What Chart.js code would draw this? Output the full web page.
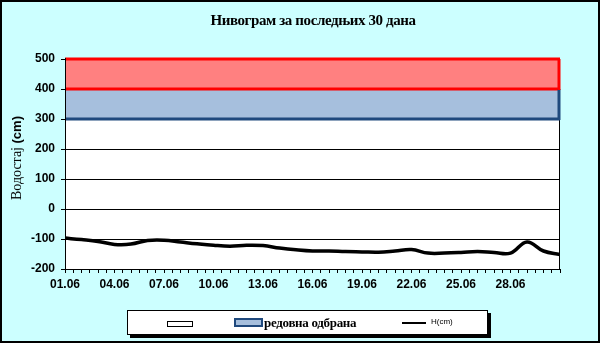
<!DOCTYPE html>
<html>
<head>
<meta charset="utf-8">
<script src="https://cdn.jsdelivr.net/npm/chart.js@4/dist/chart.umd.min.js"></script>
<style>
    html, body { margin: 0; padding: 0; }
    body {
        width: 600px; height: 343px; position: relative; overflow: hidden;
        background: #ccffff; font-family: "Liberation Sans", Arial, sans-serif;
    }
    canvas { position: absolute; left: 0; top: 0; }
    #frame {
        position: absolute; left: 0; top: 0; width: 600px; height: 343px;
        box-sizing: border-box; border: 2px solid #000; pointer-events: none;
    }
    #title {
        position: absolute; left: 0; width: 626px; top: 12px; text-align: center;
        font: bold 15px "Liberation Serif", "Times New Roman", serif; letter-spacing: -0.4px;
    }
    #ytitle {
        position: absolute; left: 17px; top: 158px; white-space: nowrap;
        transform: translate(-50%, -50%) rotate(-90deg);
        font: 14px "Liberation Serif", "Times New Roman", serif;
    }
    #ytitle b { font: bold 13px "Liberation Sans", Arial, sans-serif; }
    #legend {
        position: absolute; left: 127px; top: 310px; width: 361px; height: 25px;
        box-sizing: border-box; border: 1px solid #000; background: #fff;
        box-shadow: 3px 3px 0 #000;
    }
    .sw { position: absolute; box-sizing: border-box; }
    .lbl { position: absolute; white-space: nowrap; }
</style>
</head>
<body>
<canvas id="chart" width="600" height="343"></canvas>
<div id="title">Нивограм за последњих 30 дана</div>
<div id="ytitle">Водостај <b>(cm)</b></div>
<div id="legend"></div>
<div id="frame"></div>
<script>
    // дани од 01.06 (0 = 01.06)
    const days = [0, 1, 2, 3, 4, 5, 6, 7, 8, 9, 10, 11, 12, 13, 14, 15,
        16, 17, 18, 19, 20, 21, 22, 23, 24, 25, 26, 27, 28, 29, 30];
    // водостај H (cm)
    const levels = [-97, -102, -108, -118, -117, -105, -104, -110, -116, -121, -124,
        -121, -122, -130, -136, -140, -140, -142, -143, -144, -140, -135, -147,
        -147, -145, -142, -145, -147, -110, -140, -152];
    const dateLabels = ['01.06', '04.06', '07.06', '10.06', '13.06', '16.06',
        '19.06', '22.06', '25.06', '28.06'];
    const yTicks = [-200, -100, 0, 100, 200, 300, 400, 500];
    // границе одбране: доња, редовна, ванредна
    const bandLimits = [300, 400, 500];
    const seriesNames = ['', 'редовна одбрана', 'H(cm)'];

    const RED = '#ff0000';
    const PINK = '#ff8080';
    const STEEL = '#a6bfdd';
    const NAVY = '#1f497d';

    function flat(v) {
        return [{ x: days[0], y: v }, { x: days[days.length - 1], y: v }];
    }

    const frameLines = {
        id: 'frameLines',
        beforeDraw(chart) {
            const a = chart.chartArea, ctx = chart.ctx;
            ctx.save();
            ctx.fillStyle = '#fff';
            ctx.fillRect(a.left, a.top, a.right - a.left, a.bottom - a.top);
            ctx.restore();
        },
        beforeDatasetsDraw(chart) {
            const a = chart.chartArea, ctx = chart.ctx;
            ctx.save();
            ctx.strokeStyle = '#000';
            ctx.lineWidth = 1;
            ctx.strokeRect(Math.round(a.left) + 0.5, Math.round(a.top) + 0.5,
                Math.round(a.right - a.left) - 1, Math.round(a.bottom - a.top));
            ctx.restore();
        },
        afterDatasetsDraw(chart) {
            const xs = chart.scales.x, ys = chart.scales.y, ctx = chart.ctx;
            const a = chart.chartArea;
            const x = xs.getPixelForValue(days[days.length - 1]) - 1;
            ctx.save();
            ctx.lineWidth = 3;
            ctx.strokeStyle = NAVY;
            ctx.beginPath();
            ctx.moveTo(x, ys.getPixelForValue(bandLimits[0]) + 1);
            ctx.lineTo(x, ys.getPixelForValue(bandLimits[1]));
            ctx.stroke();
            ctx.strokeStyle = RED;
            ctx.beginPath();
            ctx.moveTo(x, ys.getPixelForValue(bandLimits[1]) + 1);
            ctx.lineTo(x, ys.getPixelForValue(bandLimits[2]));
            ctx.stroke();
            // лева оса преко појасева
            ctx.lineWidth = 1;
            ctx.strokeStyle = '#000';
            ctx.beginPath();
            ctx.moveTo(Math.round(a.left) + 0.5, a.top - 1);
            ctx.lineTo(Math.round(a.left) + 0.5, a.bottom);
            ctx.stroke();
            ctx.restore();
        }
    };

    new Chart(document.getElementById('chart'), {
        type: 'line',
        data: {
            datasets: [{
                label: seriesNames[2],
                data: days.map(function (d, i) { return { x: d, y: levels[i] }; }),
                borderColor: '#000',
                borderWidth: 3.5,
                tension: 0.4,
                pointRadius: 0,
                fill: false
            }, {
                label: seriesNames[0],
                data: flat(bandLimits[0]),
                borderColor: NAVY,
                borderWidth: 3,
                pointRadius: 0,
                fill: false,
                clip: false
            }, {
                label: seriesNames[1],
                data: flat(bandLimits[1]),
                borderColor: RED,
                borderWidth: 3,
                backgroundColor: STEEL,
                pointRadius: 0,
                fill: 1,
                clip: false
            }, {
                label: 'ванредна',
                data: flat(bandLimits[2]),
                borderColor: RED,
                borderWidth: 3,
                backgroundColor: PINK,
                pointRadius: 0,
                fill: 2,
                clip: false
            }]
        },
        options: {
            responsive: false,
            animation: false,
            devicePixelRatio: 1,
            layout: { padding: { top: 59, right: 40, bottom: 44, left: 0 } },
            plugins: {
                legend: { display: false },
                tooltip: { enabled: false }
            },
            scales: {
                x: {
                    type: 'linear',
                    min: days[0],
                    max: days[days.length - 1],
                    border: { color: '#000', width: 1 },
                    grid: { drawOnChartArea: false, color: '#000', tickLength: 4 },
                    ticks: {
                        stepSize: 0.5,
                        autoSkip: false,
                        maxRotation: 0,
                        minRotation: 0,
                        padding: 4,
                        color: '#000',
                        font: { family: 'Liberation Sans', weight: 'bold', size: 12 },
                        callback: function (value) {
                            if (!Number.isInteger(value) || value % 3 !== 0) return '';
                            return dateLabels[value / 3] || '';
                        }
                    },
                    afterFit: function (scale) { scale.height = 30; }
                },
                y: {
                    min: yTicks[0],
                    max: yTicks[yTicks.length - 1],
                    border: { color: '#000', width: 1 },
                    grid: { color: '#000', tickLength: 4 },
                    ticks: {
                        stepSize: 100,
                        padding: 6,
                        color: '#000',
                        font: { family: 'Liberation Sans', weight: 'bold', size: 12 }
                    },
                    afterFit: function (scale) { scale.width = 65; }
                }
            }
        },
        plugins: [frameLines]
    });

    // легенда
    (function () {
        const box = document.getElementById('legend');
        box.innerHTML =
            '<div class="sw" style="left:39px;top:10px;width:26px;height:6px;border:1px solid #000;background:#fff"></div>' +
            '<div class="lbl" style="left:70px;top:5px;font:bold 13px \'Liberation Serif\',serif">' + seriesNames[0] + '</div>' +
            '<div class="sw" style="left:106px;top:7px;width:29px;height:9px;border:2px solid ' + NAVY + ';background:' + STEEL + '"></div>' +
            '<div class="lbl" style="left:136px;top:4px;font:bold 13px \'Liberation Serif\',serif;letter-spacing:-0.3px">' + seriesNames[1] + '</div>' +
            '<div class="sw" style="left:274px;top:11px;width:24px;height:2px;background:#000"></div>' +
            '<div class="lbl" style="left:303px;top:6px;font:8px \'Liberation Sans\',sans-serif">' + seriesNames[2] + '</div>';
    })();
</script>
</body>
</html>
